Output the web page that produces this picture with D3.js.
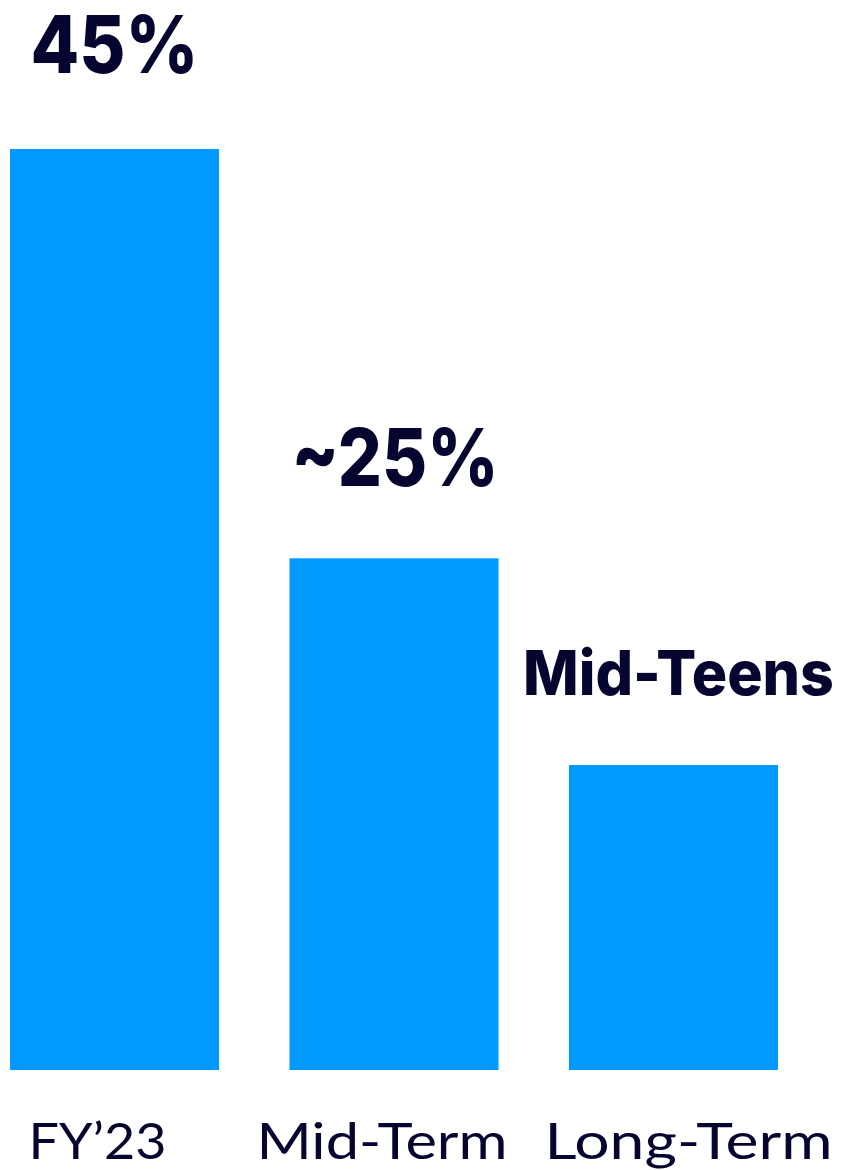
<!DOCTYPE html>
<html><head><meta charset="utf-8">
<script src="https://cdn.jsdelivr.net/npm/d3@7"></script>
<style>html,body{margin:0;padding:0;background:#fff;}</style>
</head><body>
<svg id="chart" width="842" height="1170"></svg>
<script>
const categories = ["FY\u201923", "Mid-Term", "Long-Term"];
const values = [45, 25, 14.9];
const valueLabels = ["45%", "~25%", "Mid-Teens"];

const svg = d3.select("#chart");
const navy = "#05052f";
const blue = "#0099ff";

const x = d3.scaleBand().domain(categories).range([10, 778]).paddingInner(0.252).paddingOuter(0);
const y = d3.scaleLinear().domain([0, 45]).range([1070, 149]);

svg.selectAll("rect.bar").data(values).join("rect")
  .attr("class", "bar")
  .attr("x", (d, i) => x(categories[i]))
  .attr("y", d => y(d))
  .attr("width", x.bandwidth())
  .attr("height", d => y(0) - y(d))
  .attr("fill", blue);

const labelSizes = [80, 80, 62];
const labelWidths = [168, 207, 311];
const labelDx = [0, 1, 5];
const labelGap = [76, 72, 70];
svg.selectAll("text.val").data(values).join("text")
  .attr("class", "val")
  .attr("x", (d, i) => x(categories[i]) + x.bandwidth() / 2 + labelDx[i])
  .attr("y", (d, i) => y(d) - labelGap[i])
  .attr("text-anchor", "middle")
  .attr("font-family", "Inter, 'Open Sans', sans-serif")
  .attr("font-weight", 800)
  .attr("font-size", (d, i) => labelSizes[i])
  .attr("textLength", (d, i) => labelWidths[i])
  .attr("lengthAdjust", "spacingAndGlyphs")
  .attr("fill", navy)
  .text((d, i) => valueLabels[i]);

const xAxis = d3.axisBottom(x).tickSize(0).tickPadding(0);
const axisG = svg.append("g").attr("transform", "translate(0,1070)").call(xAxis);
axisG.select(".domain").remove();
const tickDx = [-17, -12, 15];
const tickWidths = [138, 251, 288];
axisG.selectAll(".tick text")
  .attr("y", 89)
  .attr("dy", 0)
  .attr("x", (d, i) => tickDx[i])
  .attr("font-family", "Lato, 'Open Sans', sans-serif")
  .attr("font-weight", 400)
  .attr("font-size", 51)
  .attr("textLength", (d, i) => tickWidths[i])
  .attr("lengthAdjust", "spacingAndGlyphs")
  .attr("fill", navy);
</script>
</body></html>
